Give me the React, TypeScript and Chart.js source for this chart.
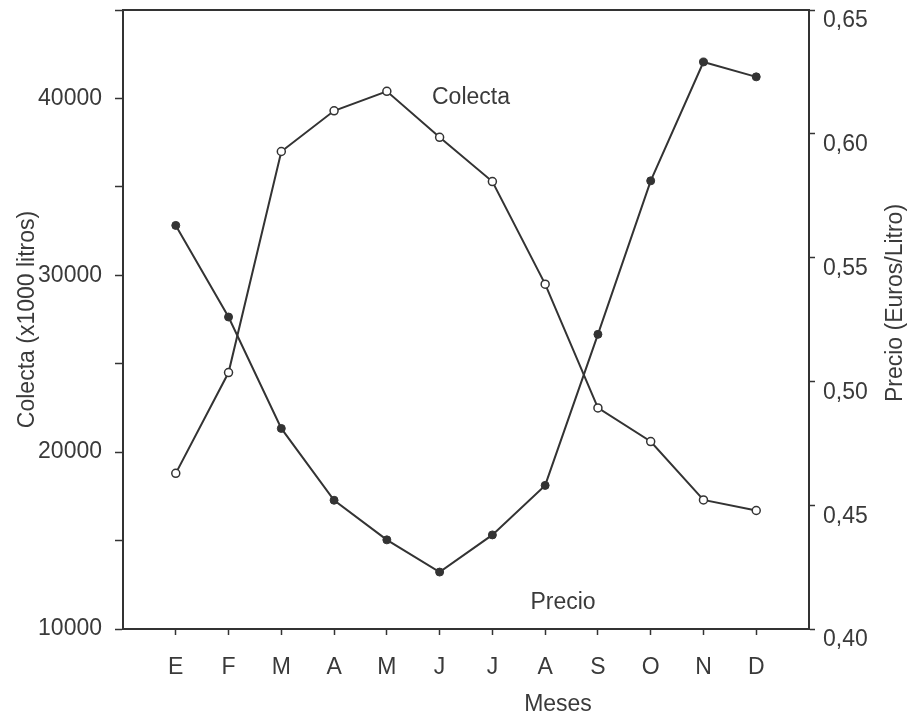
import React, { useEffect, useRef } from "react";
import { Chart, registerables } from "chart.js";

Chart.register(...registerables);

const months = ["E", "F", "M", "A", "M", "J", "J", "A", "S", "O", "N", "D"];
const colecta = [18800, 24500, 37000, 39300, 40400, 37800, 35300, 29500, 22500, 20600, 17300, 16700];
const precio = [0.563, 0.526, 0.481, 0.452, 0.436, 0.423, 0.438, 0.458, 0.519, 0.581, 0.629, 0.623];
const leftTicks = [10000, 20000, 30000, 40000];

const INK = "#333333";
const TXT = "#3a3a3a";
const FONT = "'Liberation Sans', Arial, sans-serif";

const textPlugin = {
  id: "texts",
  afterDraw(chart: any) {
    const ctx = chart.ctx;
    const a = chart.chartArea;
    ctx.save();
    // top frame line
    ctx.strokeStyle = INK;
    ctx.lineWidth = 2;
    ctx.beginPath();
    ctx.moveTo(a.left, a.top);
    ctx.lineTo(a.right, a.top);
    ctx.stroke();
    ctx.fillStyle = TXT;
    ctx.font = `23px ${FONT}`;
    ctx.textAlign = "center";
    ctx.textBaseline = "middle";
    ctx.fillText("Colecta", 471, 98);
    ctx.fillText("Precio", 563, 603);
    ctx.fillText("Meses", 558, 705);
    ctx.translate(896, 303);
    ctx.rotate(-Math.PI / 2);
    ctx.fillText("Precio (Euros/Litro)", 0, 0);
    ctx.restore();
  },
};

function zeroPad(scale: any) {
  scale.paddingTop = 0;
  scale.paddingBottom = 0;
  scale.paddingLeft = 0;
  scale.paddingRight = 0;
}

export default function App() {
  const ref = useRef<HTMLCanvasElement | null>(null);
  useEffect(() => {
    if (!ref.current) return;
    const chart = new Chart(ref.current, {
      type: "line",
      data: {
        datasets: [
          {
            label: "Colecta",
            data: colecta.map((v, i) => ({ x: i + 1, y: v })),
            yAxisID: "y",
            borderColor: INK,
            borderWidth: 2,
            pointRadius: 4,
            pointBorderWidth: 1.5,
            pointBackgroundColor: "#ffffff",
            pointBorderColor: INK,
            tension: 0,
          },
          {
            label: "Precio",
            data: precio.map((v, i) => ({ x: i + 1, y: v })),
            yAxisID: "y1",
            borderColor: INK,
            borderWidth: 2,
            pointRadius: 4,
            pointBorderWidth: 1,
            pointBackgroundColor: INK,
            pointBorderColor: INK,
            tension: 0,
          },
        ],
      },
      options: {
        animation: false,
        responsive: false,
        layout: { padding: { top: 10, left: 0, right: 0, bottom: 0 } },
        plugins: {
          legend: { display: false },
          tooltip: { enabled: false },
        },
        scales: {
          x: {
            type: "linear",
            min: 0,
            max: 13,
            afterBuildTicks: (scale: any) => {
              scale.ticks = months.map((_, i) => ({ value: i + 1 }));
            },
            afterFit: (scale: any) => {
              scale.height = 87;
              zeroPad(scale);
            },
            ticks: {
              callback: (v: any) => months[Number(v) - 1] ?? "",
              color: TXT,
              font: { family: FONT, size: 23 },
              padding: 19,
              maxRotation: 0,
              autoSkip: false,
            },
            grid: { drawOnChartArea: false, tickLength: 6, color: INK, tickWidth: 1.5 },
            border: { display: true, color: INK, width: 2 },
          },
          y: {
            type: "linear",
            position: "left",
            min: 10000,
            max: 45000,
            ticks: {
              stepSize: 5000,
              callback: (v: any) => (leftTicks.includes(Number(v)) ? String(v) : ""),
              color: TXT,
              font: { family: FONT, size: 23 },
              padding: 13,
            },
            afterFit: (scale: any) => {
              scale.width = 123;
              zeroPad(scale);
            },
            title: {
              display: true,
              text: "Colecta (x1000 litros)",
              color: TXT,
              font: { family: FONT, size: 23 },
              padding: { top: 14, bottom: 0 },
            },
            grid: { drawOnChartArea: false, tickLength: 8, color: INK, tickWidth: 1.5 },
            border: { display: true, color: INK, width: 2 },
          },
          y1: {
            type: "linear",
            position: "right",
            min: 0.4,
            max: 0.65,
            ticks: {
              stepSize: 0.05,
              callback: (v: any) => Number(v).toFixed(2).replace(".", ","),
              color: TXT,
              font: { family: FONT, size: 23 },
              padding: 8,
              labelOffset: 11,
            },
            afterFit: (scale: any) => {
              scale.width = 102;
              zeroPad(scale);
            },
            grid: { drawOnChartArea: false, tickLength: 6, color: INK, tickWidth: 1.5 },
            border: { display: true, color: INK, width: 2 },
          },
        },
      },
      plugins: [textPlugin],
    } as any);
    return () => chart.destroy();
  }, []);
  return (
    <div style={{ position: "absolute", left: 0, top: 0, width: 911, height: 716, background: "#fff" }}>
      <canvas ref={ref} width={911} height={716} style={{ display: "block" }} />
    </div>
  );
}
